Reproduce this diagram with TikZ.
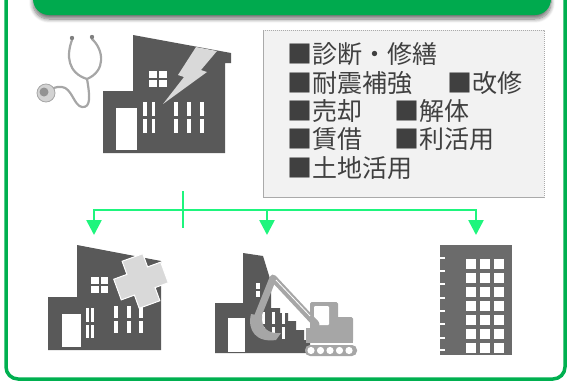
\documentclass[tikz,border=0pt]{standalone}
\usepackage{fontspec}
\newfontfamily\jpfont{Noto Sans CJK JP}
\usetikzlibrary{shadows.blur,arrows.meta}
\definecolor{frameGreen}{RGB}{0,176,80}
\definecolor{headGreen}{RGB}{0,170,78}
\definecolor{flowGreen}{RGB}{30,245,125}
\definecolor{iconDark}{RGB}{89,89,89}
\definecolor{iconMid}{RGB}{107,107,107}
\definecolor{iconLight}{RGB}{166,166,166}
\definecolor{patchGray}{RGB}{217,217,217}
\definecolor{boxFill}{RGB}{242,242,242}
\definecolor{boxLine}{RGB}{170,170,170}
\definecolor{textGray}{RGB}{64,64,64}
\begin{document}
\begin{tikzpicture}[x=1pt,y=-1pt,
  item/.style={anchor=west,inner sep=0pt,text=textGray,font=\jpfont\fontsize{25}{25}\selectfont},
  link/.style={draw=flowGreen,line width=2.6pt},
  tip/.style={-{Triangle[length=15pt,width=15pt]}},
  hole/.style={fill=white},
  tube/.style={draw=iconLight,line width=2.2pt,line cap=round}]
\useasboundingbox (0,0) rectangle (568,383);
\clip (0,0) rectangle (568,383);

% outer frame
\draw[frameGreen,line width=3.5pt,rounded corners=12pt] (6,-30) rectangle (565,379);

% header bar with soft shadow
\node[fill=headGreen,rounded corners=16pt,minimum width=518pt,minimum height=55pt,inner sep=0pt,
      blur shadow={shadow xshift=0pt,shadow yshift=-4pt,shadow blur radius=4pt,shadow blur steps=8,shadow opacity=55}]
      (header) at (292,-12.5) {};

% list panel
\node[draw=boxLine,dash pattern=on 1.2pt off 0.8pt,line width=0.7pt,fill=boxFill,
      minimum width=281pt,minimum height=167pt,inner sep=0pt,anchor=north west] (menu) at (263,30) {};
\node[item] (m1) at (287,54) {■診断・修繕};
\node[item] (m2) at (287,83) {■耐震補強};
\node[item] (m2b) at (447,83) {■改修};
\node[item] (m3) at (287,111) {■売却};
\node[item] (m3b) at (394,111) {■解体};
\node[item] (m4) at (287,139) {■賃借};
\node[item] (m4b) at (394,139) {■利活用};
\node[item] (m5) at (287,168) {■土地活用};

% stethoscope
\draw[tube] (72,40) .. controls (66,56) and (68,73) .. (87,79);
\draw[tube] (92,39) .. controls (104,50) and (106,71) .. (87,79);
\draw[tube] (87,79) .. controls (90,96) and (91,108) .. (82,107)
            .. controls (74,106) and (72,88) .. (62,87)
            .. controls (56,86) and (52,89) .. (48,91);
\fill[gray] (72,38) circle (2.2pt);
\fill[gray] (92,37) circle (2.2pt);
\fill[iconLight!50] (46,93) circle (9pt);
\draw[iconLight,line width=0.8pt] (46,93) circle (9pt);
\fill[gray!85] (44,92) circle (4.5pt);

% house with lightning crack
\fill[iconDark] (103,153) -- (103,91) -- (133,91) -- (133,35) -- (231,53) -- (231,63)
  -- (225,63) -- (225,153) -- cycle;
\fill[hole] (149,71) rectangle (167,87);
\fill[iconDark] (157,71) rectangle (159,87);
\fill[iconDark] (149,78) rectangle (167,80);
\fill[hole] (116,108) rectangle (137,150);
\foreach \x/\w in {143.3/3.7,152/3.3,174/4.3,186.7/4.3,200/4.3}{
  \fill[hole] (\x,102) rectangle ++(\w,14);
  \fill[hole] (\x,119) rectangle ++(\w,14);
}
\fill[patchGray] (196,47) -- (217,51) -- (201,70) -- (207,72) -- (163,104) -- (184,77)
  -- (178,75) -- cycle;

% flow connectors
\coordinate (hubT) at (183,191);
\coordinate (hubB) at (183,228);
\coordinate (jA) at (94,210);
\coordinate (jB) at (267,210);
\coordinate (jC) at (476,210);
\coordinate (tA) at (94,235);
\coordinate (tB) at (267,235);
\coordinate (tC) at (476,235);
\draw[link] (hubT) -- (hubB);
\draw[link,{Triangle[length=15pt,width=15pt]}-{Triangle[length=15pt,width=15pt]}] (tA) -- (jA) -- (jC) -- (tC);
\draw[link,tip] (jB) -- (tB);

% repaired house
\fill[iconDark] (48,350) -- (48,297) -- (77,297) -- (77,245) -- (161,261) -- (161,350) -- cycle;
\fill[hole] (90.7,277) rectangle (108.3,293.3);
\fill[iconDark] (98.5,277) rectangle (100.5,293.3);
\fill[iconDark] (90.7,284.2) rectangle (108.3,286.2);
\fill[hole] (62,314) rectangle (81,347);
\foreach \x/\w in {85.7/3.6,91/3.3}{
  \fill[hole] (\x,308) rectangle ++(\w,14);
  \fill[hole] (\x,325) rectangle ++(\w,13);
}
\foreach \x/\w in {114/4.3,126.7/4.3,139/4.3}{
  \fill[hole] (\x,306) rectangle ++(\w,12);
  \fill[hole] (\x,321) rectangle ++(\w,12);
}
\begin{scope}[shift={(141,281)},rotate=20]
  \filldraw[fill=patchGray,draw=white,line width=1pt]
    (-11,-25) -- (11,-25) -- (11,-11) -- (25,-11) -- (25,11) -- (11,11) -- (11,25)
    -- (-11,25) -- (-11,11) -- (-25,11) -- (-25,-11) -- (-11,-11) -- cycle;
\end{scope}

% building under demolition
\fill[iconDark] (215,353) -- (215,303) -- (243,303) -- (243,253) -- (263,256) -- (271,282)
  -- (271,308) -- (280,308) -- (280,313) -- (288,313) -- (288,321) -- (296,321) -- (296,330)
  -- (304,330) -- (304,340) -- (310,340) -- (310,353) -- cycle;
\fill[hole] (228,318) rectangle (245,352);
\fill[hole] (256,283) rectangle (260,289);
\fill[hole] (256,291) rectangle (260,297);
\foreach \x in {262,272,282}{
  \fill[hole] (\x,312) rectangle ++(3,12);
  \fill[hole] (\x,327) rectangle ++(3,12);
}

% excavator
\fill[iconLight,rounded corners=1.5pt] (310,302) rectangle (338,330);
\fill[white,rounded corners=1pt] (314,306) rectangle (329,325);
\fill[iconLight,rounded corners=1.5pt] (336,317) rectangle (353,342);
\fill[iconLight] (306,328) rectangle (353,343);
\fill[iconLight,rounded corners=5pt] (305,345) rectangle (357,356);
\foreach \x in {311,320.5,330,339.5,349}{
  \fill[white] (\x,350.5) circle (3.6pt);
}
\draw[iconLight,line width=7pt,line join=round,line cap=round] (316,324) -- (273,278) -- (257,318);
\draw[white,line width=0.8pt] (310,316) -- (276,280);
\fill[iconLight] (251,314) .. controls (247,330) and (256,343) .. (276,340)
  -- (281,333) .. controls (268,334) and (261,328) .. (262,316) -- cycle;

% tall apartment block
\fill[iconMid] (440,245) rectangle (512,355);
\foreach \y in {257,270,283,297,310,323,337,349}{
  \fill[hole] (440,\y) rectangle ++(5,2);
}
\foreach \x in {466,480,494}{
  \foreach \y in {259,273,287,301,315,329,343}{
    \fill[hole] (\x,\y) rectangle ++(10,10);
  }
}
\end{tikzpicture}
\end{document}
